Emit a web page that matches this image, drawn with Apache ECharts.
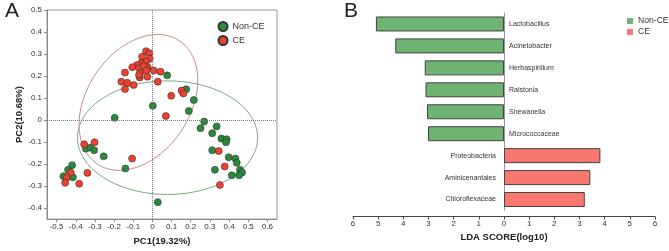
<!DOCTYPE html>
<html>
<head>
<meta charset="utf-8">
<script src="https://cdn.jsdelivr.net/npm/echarts@6/dist/echarts.min.js"></script>
<style>
html, body { margin: 0; padding: 0; background: #fff; }
#chart { width: 669px; height: 251px; }
</style>
</head>
<body>
<div id="chart"></div>
<script>
// PCoA points (PC1, PC2)
const nonCePoints = [
  [0.077, 0.203], [0.176, 0.140], [0.216, 0.091], [0.190, 0.041], [0.002, 0.065],
  [-0.197, 0.010], [0.270, -0.007], [0.335, -0.029], [0.251, -0.037], [0.312, -0.060],
  [0.360, -0.084], [0.387, -0.087], [0.384, -0.101], [0.312, -0.137], [0.398, -0.169],
  [0.433, -0.175], [0.440, -0.194], [0.326, -0.226], [0.457, -0.226], [0.468, -0.238],
  [0.452, -0.251], [0.414, -0.251], [0.028, -0.373], [-0.347, -0.130], [-0.323, -0.125],
  [-0.304, -0.137], [-0.254, -0.165], [-0.141, -0.220], [-0.419, -0.205], [-0.440, -0.226],
  [-0.464, -0.255], [-0.415, -0.260]
];
const cePoints = [
  [-0.033, 0.313], [-0.016, 0.303], [-0.054, 0.288], [-0.014, 0.279], [-0.033, 0.267],
  [-0.059, 0.258], [-0.080, 0.250], [-0.105, 0.240], [-0.070, 0.235], [-0.025, 0.240],
  [-0.045, 0.245], [-0.143, 0.216], [-0.063, 0.215], [-0.031, 0.225], [0.007, 0.225],
  [0.042, 0.220], [-0.066, 0.193], [-0.026, 0.197], [-0.070, 0.205], [-0.162, 0.174],
  [-0.131, 0.169], [0.028, 0.174], [-0.098, 0.159], [-0.143, 0.141], [0.152, 0.134],
  [0.161, 0.121], [0.098, 0.110], [0.070, 0.018], [-0.302, -0.101], [-0.356, -0.110],
  [-0.106, -0.175], [0.346, -0.141], [0.377, -0.211], [0.352, -0.295], [-0.339, -0.240],
  [-0.426, -0.238], [-0.447, -0.261], [-0.455, -0.285], [-0.382, -0.289]
];
// confidence ellipses: centre and the two half-axis vectors, in data units
const nonCeEllipse = { center: [0.079, -0.080], u: [0.470, 0.0], v: [0.0, 0.258] };
const ceEllipse = { center: [-0.073, 0.080], u: [0.205, 0.285], v: [-0.232, 0.118] };
const pc1Ticks = [-0.5, -0.4, -0.3, -0.2, -0.1, 0, 0.1, 0.2, 0.3, 0.4, 0.5, 0.6];
const pc2Ticks = [-0.4, -0.3, -0.2, -0.1, 0, 0.1, 0.2, 0.3, 0.4, 0.5];

// LEfSe
const ldaTaxa = ['Lactobacillus', 'Acinetobacter', 'Herbaspirillum', 'Ralstonia', 'Shewanella',
  'Micrococcaceae', 'Proteobacteria', 'Aminicenantales', 'Chloroflexaceae'];
const ldaScores = [5.09, 4.32, 3.15, 3.12, 3.06, 3.02, 3.83, 3.43, 3.21];
const ldaGroups = ['Non-CE', 'Non-CE', 'Non-CE', 'Non-CE', 'Non-CE', 'Non-CE', 'CE', 'CE', 'CE'];

const greenPt = '#2b8a3b', redPt = '#f0402e';
const greenBar = '#6fb372', redBar = '#f87870';

function ellipsePoints(e) {
  const pts = [];
  for (let i = 0; i <= 120; i++) {
    const t = Math.PI * 2 * i / 120;
    pts.push([
      e.center[0] + e.u[0] * Math.cos(t) + e.v[0] * Math.sin(t),
      e.center[1] + e.u[1] * Math.cos(t) + e.v[1] * Math.sin(t)
    ]);
  }
  return pts;
}

const chart = echarts.init(document.getElementById('chart'));
const option = {
  animation: false,
  textStyle: { fontFamily: 'Liberation Sans, Arial, sans-serif' },
  title: [
    { text: 'A', left: 0, top: -4, textStyle: { fontSize: 21, fontWeight: 'normal', color: '#222' } },
    { text: 'B', left: 339, top: -4, textStyle: { fontSize: 21, fontWeight: 'normal', color: '#222' } }
  ],
  legend: [
    {
      data: [{ name: 'Non-CE', icon: 'circle' }, { name: 'CE', icon: 'circle' }],
      orient: 'vertical', left: 217.5, top: 21, padding: 0,
      itemWidth: 9, itemHeight: 9, itemGap: 3,
      textStyle: { fontSize: 9, color: '#333' }
    },
    {
      data: [
        { name: 'Non-CE', icon: 'rect', itemStyle: { color: greenBar, borderWidth: 0 } },
        { name: 'CE', icon: 'rect', itemStyle: { color: redBar, borderWidth: 0 } }
      ],
      orient: 'vertical', left: 627, top: 16.5, padding: 0,
      itemWidth: 6, itemHeight: 6, itemGap: 2,
      textStyle: { fontSize: 8.6, color: '#333' }
    }
  ],
  grid: [
    { left: 47, right: 392, top: 10, bottom: 27, show: true, borderColor: '#999', borderWidth: 1 },
    { left: 353, right: 14, top: 13, bottom: 40.5 }
  ],
  xAxis: [
    {
      gridIndex: 0, type: 'value', min: -0.55, max: 0.65,
      splitLine: { show: false },
      axisLine: { show: true, onZero: false, lineStyle: { color: '#888' } },
      axisTick: { show: true, customValues: pc1Ticks, length: 3, lineStyle: { color: '#888' } },
      axisLabel: { customValues: pc1Ticks, fontSize: 8, color: '#333', margin: 4 },
      name: 'PC1(19.32%)', nameLocation: 'middle', nameGap: 13,
      nameTextStyle: { fontSize: 9.5, fontWeight: 'bold', color: '#222' }
    },
    {
      gridIndex: 1, type: 'value', min: -6, max: 6, interval: 1, offset: 6,
      splitLine: { show: false },
      axisLine: { show: true, onZero: false, lineStyle: { color: '#444' } },
      axisTick: { show: true, length: 3, lineStyle: { color: '#444' } },
      axisLabel: { fontSize: 8, color: '#333', margin: 3, formatter: v => Math.abs(v) },
      name: 'LDA SCORE(log10)', nameLocation: 'middle', nameGap: 12,
      nameTextStyle: { fontSize: 9.5, fontWeight: 'bold', color: '#222' }
    }
  ],
  yAxis: [
    {
      gridIndex: 0, type: 'value', min: -0.45, max: 0.5,
      splitLine: { show: false },
      axisLine: { show: true, onZero: false, lineStyle: { color: '#888' } },
      axisTick: { show: true, customValues: pc2Ticks, length: 3, lineStyle: { color: '#888' } },
      axisLabel: { customValues: pc2Ticks, fontSize: 8, color: '#333', margin: 5 },
      name: 'PC2(10.68%)', nameLocation: 'middle', nameGap: 23,
      nameTextStyle: { fontSize: 9.5, fontWeight: 'bold', color: '#222' }
    },
    {
      gridIndex: 1, type: 'category', data: ldaTaxa, inverse: true,
      axisLine: { show: true, onZero: true, lineStyle: { color: '#999' } },
      axisTick: { show: false },
      axisLabel: { show: false }
    }
  ],
  series: [
    {
      name: 'ellipse-noncE', type: 'line', xAxisIndex: 0, yAxisIndex: 0,
      data: ellipsePoints(nonCeEllipse), showSymbol: false, silent: true, z: 1,
      lineStyle: { color: '#79a782', width: 1 }
    },
    {
      name: 'ellipse-ce', type: 'line', xAxisIndex: 0, yAxisIndex: 0,
      data: ellipsePoints(ceEllipse), showSymbol: false, silent: true, z: 1,
      lineStyle: { color: '#c58b85', width: 1 }
    },
    {
      name: 'Non-CE', type: 'scatter', xAxisIndex: 0, yAxisIndex: 0,
      data: nonCePoints, symbolSize: 7, z: 3,
      itemStyle: { color: greenPt, borderColor: '#333', borderWidth: 0.6, opacity: 1 },
      markLine: {
        silent: true, symbol: 'none', label: { show: false },
        lineStyle: { type: 'dotted', color: '#777', width: 1 },
        data: [{ xAxis: 0 }, { yAxis: 0 }]
      }
    },
    {
      name: 'CE', type: 'scatter', xAxisIndex: 0, yAxisIndex: 0,
      data: cePoints, symbolSize: 7, z: 3,
      itemStyle: { color: redPt, borderColor: '#333', borderWidth: 0.6, opacity: 1 }
    },
    {
      name: 'Non-CE', type: 'bar', xAxisIndex: 1, yAxisIndex: 1, stack: 'lda', barWidth: 15,
      data: ldaScores.map((s, i) => ldaGroups[i] === 'Non-CE' ? -s : '-'),
      itemStyle: { color: greenBar, borderColor: '#444', borderWidth: 1 },
      label: {
        show: true, position: 'right', distance: 5, fontSize: 7, color: '#333',
        formatter: p => ldaTaxa[p.dataIndex]
      }
    },
    {
      name: 'CE', type: 'bar', xAxisIndex: 1, yAxisIndex: 1, stack: 'lda', barWidth: 15,
      data: ldaScores.map((s, i) => ldaGroups[i] === 'CE' ? s : '-'),
      itemStyle: { color: redBar, borderColor: '#444', borderWidth: 1 },
      label: {
        show: true, position: 'left', distance: 8, fontSize: 7, color: '#333',
        formatter: p => ldaTaxa[p.dataIndex]
      }
    }
  ]
};
chart.setOption(option);
window.addEventListener('resize', () => chart.resize());
</script>
</body>
</html>
